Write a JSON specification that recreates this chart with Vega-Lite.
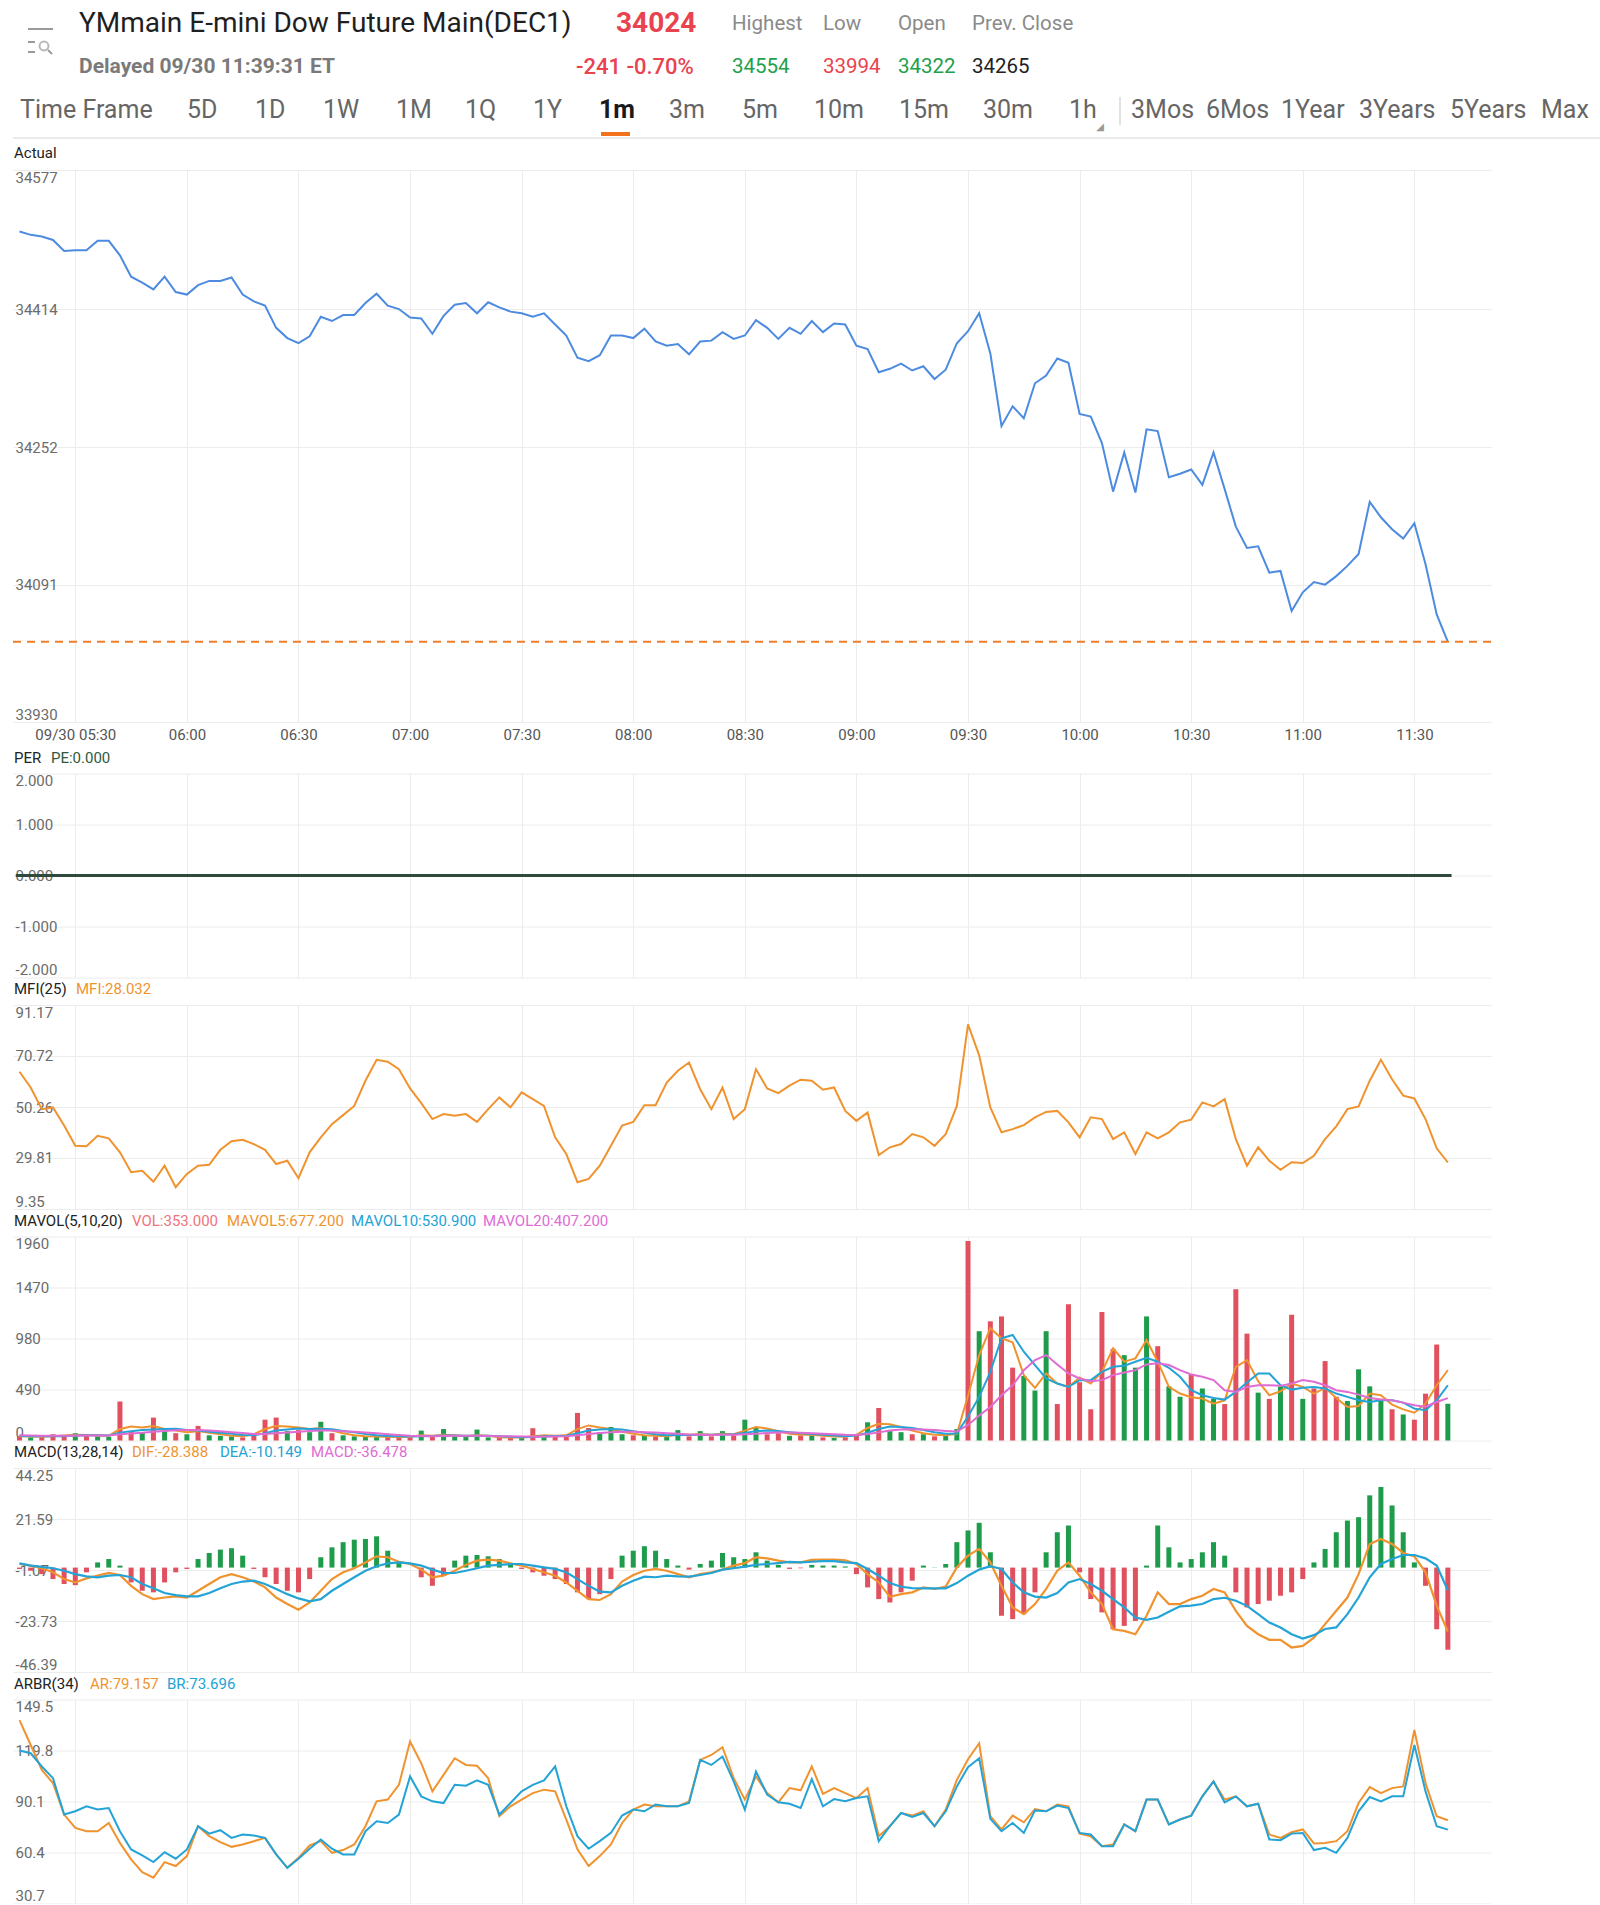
{
"$schema": "https://vega.github.io/schema/vega-lite/v6.json",
"padding": {"left": 12, "top": 0, "right": 0, "bottom": 0},
"spacing": 8.5,
"config": {
  "font": "Roboto",
  "view": {"stroke": null},
  "scale": {"continuousPadding": 0},
  "axis": {"ticks": false, "tickSize": 0, "domain": false, "gridColor": "#ececec", "gridWidth": 1, "labelFontSize": 15, "labelColor": "#6b6b6b", "labelFont": "Roboto"},
  "axisX": {"grid": true, "labelPadding": 5, "labelColor": "#555555", "labelOverlap": false, "labelFlush": false},
  "axisY": {"grid": true, "labelAlign": "left", "labelPadding": -2, "labelFlush": true, "labelOverlap": false},
  "text": {"font": "Roboto"}
},
"datasets": {
"d": [
{"time":"2021-09-30T05:15","price":34505,"mfi":64.4,"vol":40,"dir":"d","ma5":40,"ma10":45,"ma20":50,"dif":1.6,"dea":1.9,"macd":-0.6,"ar":137.5,"br":119.8},
{"time":"2021-09-30T05:18","price":34501,"mfi":58.1,"vol":30,"dir":"u","ma5":38,"ma10":42,"ma20":48,"dif":0.9,"dea":0.9,"macd":-1.4,"ar":123.0,"br":118.2},
{"time":"2021-09-30T05:21","price":34499,"mfi":49.4,"vol":35,"dir":"d","ma5":36,"ma10":40,"ma20":46,"dif":-0.3,"dea":0.3,"macd":-2.9,"ar":108.5,"br":110.5},
{"time":"2021-09-30T05:24","price":34495,"mfi":50.1,"vol":60,"dir":"d","ma5":42,"ma10":40,"ma20":45,"dif":-2.1,"dea":-0.3,"macd":-5.1,"ar":100.8,"br":103.7},
{"time":"2021-09-30T05:27","price":34482,"mfi":42.8,"vol":45,"dir":"d","ma5":48,"ma10":42,"ma20":45,"dif":-5.1,"dea":-1.4,"macd":-7.3,"ar":82.5,"br":82.5},
{"time":"2021-09-30T05:30","price":34483,"mfi":34.7,"vol":70,"dir":"u","ma5":55,"ma10":48,"ma20":46,"dif":-6.6,"dea":-2.9,"macd":-7.8,"ar":74.7,"br":84.4},
{"time":"2021-09-30T05:33","price":34483,"mfi":34.5,"vol":50,"dir":"d","ma5":52,"ma10":50,"ma20":47,"dif":-4.8,"dea":-3.9,"macd":-2.1,"ar":72.8,"br":87.3},
{"time":"2021-09-30T05:36","price":34494,"mfi":38.7,"vol":40,"dir":"u","ma5":48,"ma10":50,"ma20":48,"dif":-3.6,"dea":-4.3,"macd":2.3,"ar":72.8,"br":85.4},
{"time":"2021-09-30T05:39","price":34494,"mfi":37.7,"vol":35,"dir":"u","ma5":45,"ma10":48,"ma20":48,"dif":-2.4,"dea":-3.6,"macd":3.8,"ar":77.6,"br":86.3},
{"time":"2021-09-30T05:42","price":34477,"mfi":32.1,"vol":375,"dir":"d","ma5":110,"ma10":75,"ma20":60,"dif":-3.3,"dea":-3.3,"macd":0.9,"ar":66.0,"br":72.8},
{"time":"2021-09-30T05:45","price":34452,"mfi":24.1,"vol":90,"dir":"d","ma5":135,"ma10":90,"ma20":68,"dif":-8.1,"dea":-4.3,"macd":-6.6,"ar":56.4,"br":62.2},
{"time":"2021-09-30T05:48","price":34445,"mfi":24.7,"vol":80,"dir":"u","ma5":125,"ma10":100,"ma20":75,"dif":-11.8,"dea":-7.3,"macd":-10.3,"ar":49.0,"br":58.7},
{"time":"2021-09-30T05:51","price":34437,"mfi":20.3,"vol":220,"dir":"d","ma5":140,"ma10":105,"ma20":85,"dif":-14.0,"dea":-9.2,"macd":-11.0,"ar":45.7,"br":54.8},
{"time":"2021-09-30T05:54","price":34452,"mfi":26.7,"vol":90,"dir":"u","ma5":110,"ma10":110,"ma20":92,"dif":-13.3,"dea":-11.3,"macd":-6.6,"ar":54.8,"br":60.6},
{"time":"2021-09-30T05:57","price":34434,"mfi":18.1,"vol":70,"dir":"d","ma5":95,"ma10":112,"ma20":98,"dif":-12.8,"dea":-12.2,"macd":-2.1,"ar":52.5,"br":56.8},
{"time":"2021-09-30T06:00","price":34431,"mfi":23.4,"vol":60,"dir":"u","ma5":80,"ma10":100,"ma20":100,"dif":-13.3,"dea":-12.8,"macd":-0.6,"ar":58.3,"br":62.2},
{"time":"2021-09-30T06:03","price":34442,"mfi":26.7,"vol":140,"dir":"d","ma5":90,"ma10":95,"ma20":100,"dif":-10.3,"dea":-12.8,"macd":3.8,"ar":75.7,"br":75.7},
{"time":"2021-09-30T06:06","price":34447,"mfi":27.1,"vol":50,"dir":"u","ma5":75,"ma10":85,"ma20":95,"dif":-7.3,"dea":-11.3,"macd":6.5,"ar":69.9,"br":71.4},
{"time":"2021-09-30T06:09","price":34447,"mfi":33.1,"vol":45,"dir":"u","ma5":60,"ma10":75,"ma20":88,"dif":-4.3,"dea":-9.2,"macd":8.0,"ar":66.4,"br":73.4},
{"time":"2021-09-30T06:12","price":34451,"mfi":36.5,"vol":40,"dir":"u","ma5":45,"ma10":65,"ma20":80,"dif":-2.9,"dea":-7.3,"macd":8.6,"ar":63.7,"br":68.9},
{"time":"2021-09-30T06:15","price":34431,"mfi":37.1,"vol":30,"dir":"d","ma5":40,"ma10":52,"ma20":72,"dif":-4.3,"dea":-6.2,"macd":5.3,"ar":65.1,"br":70.9},
{"time":"2021-09-30T06:18","price":34423,"mfi":35.4,"vol":60,"dir":"d","ma5":60,"ma10":50,"ma20":62,"dif":-6.2,"dea":-5.8,"macd":-0.6,"ar":67.0,"br":70.3},
{"time":"2021-09-30T06:21","price":34418,"mfi":33.1,"vol":200,"dir":"d","ma5":110,"ma10":70,"ma20":62,"dif":-8.8,"dea":-7.3,"macd":-4.3,"ar":68.9,"br":68.9},
{"time":"2021-09-30T06:24","price":34392,"mfi":27.4,"vol":220,"dir":"d","ma5":140,"ma10":95,"ma20":70,"dif":-13.3,"dea":-9.5,"macd":-7.3,"ar":59.3,"br":59.3},
{"time":"2021-09-30T06:27","price":34380,"mfi":28.7,"vol":90,"dir":"u","ma5":135,"ma10":105,"ma20":78,"dif":-16.2,"dea":-11.8,"macd":-10.3,"ar":51.5,"br":51.5},
{"time":"2021-09-30T06:30","price":34374,"mfi":21.7,"vol":100,"dir":"d","ma5":125,"ma10":115,"ma20":85,"dif":-18.7,"dea":-13.7,"macd":-11.0,"ar":57.3,"br":56.8},
{"time":"2021-09-30T06:33","price":34382,"mfi":32.1,"vol":80,"dir":"u","ma5":110,"ma10":110,"ma20":92,"dif":-15.5,"dea":-15.0,"macd":-5.1,"ar":64.5,"br":62.6},
{"time":"2021-09-30T06:36","price":34405,"mfi":38.1,"vol":180,"dir":"u","ma5":120,"ma10":112,"ma20":96,"dif":-10.3,"dea":-14.0,"macd":4.6,"ar":67.0,"br":68.0},
{"time":"2021-09-30T06:39","price":34400,"mfi":43.4,"vol":70,"dir":"d","ma5":95,"ma10":108,"ma20":95,"dif":-5.1,"dea":-10.3,"macd":9.0,"ar":60.2,"br":62.6},
{"time":"2021-09-30T06:42","price":34407,"mfi":47.0,"vol":50,"dir":"u","ma5":70,"ma10":92,"ma20":90,"dif":-2.1,"dea":-7.3,"macd":11.3,"ar":61.8,"br":59.3},
{"time":"2021-09-30T06:45","price":34407,"mfi":50.7,"vol":40,"dir":"u","ma5":50,"ma10":78,"ma20":84,"dif":-0.3,"dea":-4.3,"macd":12.4,"ar":65.1,"br":59.3},
{"time":"2021-09-30T06:48","price":34421,"mfi":60.8,"vol":40,"dir":"u","ma5":42,"ma10":62,"ma20":78,"dif":2.3,"dea":-1.4,"macd":12.7,"ar":75.7,"br":72.8},
{"time":"2021-09-30T06:51","price":34432,"mfi":69.2,"vol":35,"dir":"u","ma5":38,"ma10":50,"ma20":70,"dif":5.0,"dea":0.6,"macd":13.9,"ar":90.2,"br":78.6},
{"time":"2021-09-30T06:54","price":34418,"mfi":68.4,"vol":40,"dir":"d","ma5":36,"ma10":44,"ma20":60,"dif":4.6,"dea":1.9,"macd":7.5,"ar":91.2,"br":77.6},
{"time":"2021-09-30T06:57","price":34414,"mfi":65.4,"vol":30,"dir":"d","ma5":34,"ma10":40,"ma20":52,"dif":2.6,"dea":2.3,"macd":2.3,"ar":99.8,"br":82.5},
{"time":"2021-09-30T07:00","price":34404,"mfi":57.7,"vol":30,"dir":"d","ma5":35,"ma10":38,"ma20":46,"dif":1.6,"dea":1.9,"macd":0.0,"ar":125.0,"br":104.7},
{"time":"2021-09-30T07:03","price":34403,"mfi":51.8,"vol":95,"dir":"u","ma5":50,"ma10":42,"ma20":44,"dif":-0.9,"dea":0.9,"macd":-4.3,"ar":112.4,"br":93.1},
{"time":"2021-09-30T07:06","price":34385,"mfi":45.4,"vol":40,"dir":"d","ma5":45,"ma10":44,"ma20":42,"dif":-4.3,"dea":-0.9,"macd":-8.1,"ar":96.0,"br":90.2},
{"time":"2021-09-30T07:09","price":34406,"mfi":47.4,"vol":110,"dir":"u","ma5":55,"ma10":48,"ma20":44,"dif":-3.6,"dea":-2.4,"macd":-3.6,"ar":105.6,"br":89.2},
{"time":"2021-09-30T07:12","price":34419,"mfi":46.8,"vol":40,"dir":"u","ma5":50,"ma10":48,"ma20":45,"dif":-1.4,"dea":-2.4,"macd":3.1,"ar":115.3,"br":99.8},
{"time":"2021-09-30T07:15","price":34421,"mfi":47.4,"vol":35,"dir":"u","ma5":40,"ma10":46,"ma20":45,"dif":1.2,"dea":-1.4,"macd":5.3,"ar":111.4,"br":99.3},
{"time":"2021-09-30T07:18","price":34409,"mfi":44.3,"vol":105,"dir":"u","ma5":50,"ma10":45,"ma20":45,"dif":3.1,"dea":-0.3,"macd":5.6,"ar":110.9,"br":102.4},
{"time":"2021-09-30T07:21","price":34422,"mfi":49.4,"vol":30,"dir":"u","ma5":45,"ma10":46,"ma20":44,"dif":3.5,"dea":0.9,"macd":5.0,"ar":103.7,"br":99.8},
{"time":"2021-09-30T07:24","price":34416,"mfi":54.1,"vol":30,"dir":"d","ma5":32,"ma10":42,"ma20":42,"dif":3.1,"dea":1.2,"macd":3.8,"ar":81.5,"br":82.5},
{"time":"2021-09-30T07:27","price":34411,"mfi":50.1,"vol":25,"dir":"d","ma5":28,"ma10":36,"ma20":40,"dif":1.9,"dea":1.6,"macd":1.6,"ar":87.3,"br":89.2},
{"time":"2021-09-30T07:30","price":34409,"mfi":56.1,"vol":30,"dir":"u","ma5":28,"ma10":32,"ma20":38,"dif":0.9,"dea":1.6,"macd":-0.6,"ar":91.2,"br":96.0},
{"time":"2021-09-30T07:33","price":34405,"mfi":53.4,"vol":118,"dir":"d","ma5":40,"ma10":34,"ma20":36,"dif":-0.6,"dea":0.9,"macd":-2.1,"ar":95.0,"br":99.8},
{"time":"2021-09-30T07:36","price":34409,"mfi":50.7,"vol":40,"dir":"u","ma5":50,"ma10":40,"ma20":36,"dif":-2.1,"dea":0.1,"macd":-3.6,"ar":97.0,"br":102.4},
{"time":"2021-09-30T07:39","price":34396,"mfi":38.1,"vol":40,"dir":"d","ma5":45,"ma10":44,"ma20":38,"dif":-3.6,"dea":-0.6,"macd":-5.1,"ar":96.0,"br":110.5},
{"time":"2021-09-30T07:42","price":34383,"mfi":31.4,"vol":50,"dir":"d","ma5":50,"ma10":46,"ma20":40,"dif":-6.6,"dea":-2.1,"macd":-7.3,"ar":79.6,"br":87.3},
{"time":"2021-09-30T07:45","price":34357,"mfi":20.1,"vol":265,"dir":"d","ma5":110,"ma10":70,"ma20":50,"dif":-10.3,"dea":-5.1,"macd":-11.0,"ar":62.2,"br":69.9},
{"time":"2021-09-30T07:48","price":34353,"mfi":21.4,"vol":120,"dir":"d","ma5":145,"ma10":95,"ma20":62,"dif":-14.0,"dea":-8.1,"macd":-14.0,"ar":52.5,"br":62.6},
{"time":"2021-09-30T07:51","price":34360,"mfi":26.7,"vol":80,"dir":"u","ma5":125,"ma10":105,"ma20":72,"dif":-14.4,"dea":-10.7,"macd":-11.8,"ar":58.3,"br":67.0},
{"time":"2021-09-30T07:54","price":34383,"mfi":34.7,"vol":130,"dir":"u","ma5":110,"ma10":110,"ma20":80,"dif":-11.8,"dea":-11.0,"macd":-5.1,"ar":65.1,"br":71.8},
{"time":"2021-09-30T07:57","price":34383,"mfi":42.8,"vol":60,"dir":"u","ma5":85,"ma10":105,"ma20":84,"dif":-6.2,"dea":-8.1,"macd":5.3,"ar":77.6,"br":81.9},
{"time":"2021-09-30T08:00","price":34380,"mfi":44.3,"vol":50,"dir":"d","ma5":65,"ma10":90,"ma20":84,"dif":-3.3,"dea":-5.8,"macd":7.5,"ar":85.4,"br":85.4},
{"time":"2021-09-30T08:03","price":34391,"mfi":51.0,"vol":45,"dir":"u","ma5":50,"ma10":75,"ma20":80,"dif":-1.4,"dea":-4.0,"macd":9.5,"ar":88.3,"br":84.4},
{"time":"2021-09-30T08:06","price":34376,"mfi":51.0,"vol":40,"dir":"d","ma5":45,"ma10":60,"ma20":76,"dif":-0.6,"dea":-4.3,"macd":7.5,"ar":87.3,"br":88.3},
{"time":"2021-09-30T08:09","price":34371,"mfi":60.1,"vol":40,"dir":"u","ma5":42,"ma10":50,"ma20":70,"dif":-1.4,"dea":-3.6,"macd":3.8,"ar":87.3,"br":87.3},
{"time":"2021-09-30T08:12","price":34373,"mfi":64.8,"vol":100,"dir":"u","ma5":58,"ma10":52,"ma20":64,"dif":-2.9,"dea":-3.9,"macd":0.9,"ar":87.3,"br":87.3},
{"time":"2021-09-30T08:15","price":34361,"mfi":68.1,"vol":40,"dir":"d","ma5":55,"ma10":52,"ma20":58,"dif":-4.3,"dea":-4.0,"macd":-0.9,"ar":90.2,"br":89.2},
{"time":"2021-09-30T08:18","price":34376,"mfi":57.4,"vol":90,"dir":"u","ma5":62,"ma10":55,"ma20":55,"dif":-2.9,"dea":-3.3,"macd":1.6,"ar":114.3,"br":114.3},
{"time":"2021-09-30T08:21","price":34377,"mfi":49.4,"vol":40,"dir":"d","ma5":55,"ma10":55,"ma20":54,"dif":-2.1,"dea":-2.4,"macd":3.1,"ar":117.2,"br":111.4},
{"time":"2021-09-30T08:24","price":34387,"mfi":58.1,"vol":90,"dir":"u","ma5":65,"ma10":58,"ma20":55,"dif":-0.9,"dea":-0.9,"macd":6.5,"ar":121.7,"br":116.3},
{"time":"2021-09-30T08:27","price":34379,"mfi":45.4,"vol":50,"dir":"d","ma5":60,"ma10":60,"ma20":56,"dif":0.9,"dea":-0.3,"macd":4.6,"ar":103.7,"br":101.8},
{"time":"2021-09-30T08:30","price":34383,"mfi":49.4,"vol":200,"dir":"u","ma5":95,"ma10":72,"ma20":60,"dif":2.0,"dea":0.4,"macd":3.8,"ar":91.2,"br":85.4},
{"time":"2021-09-30T08:33","price":34401,"mfi":65.4,"vol":120,"dir":"u","ma5":130,"ma10":90,"ma20":66,"dif":4.6,"dea":1.2,"macd":6.8,"ar":104.7,"br":107.6},
{"time":"2021-09-30T08:36","price":34392,"mfi":57.7,"vol":60,"dir":"d","ma5":115,"ma10":95,"ma20":72,"dif":4.1,"dea":1.6,"macd":3.1,"ar":95.0,"br":94.1},
{"time":"2021-09-30T08:39","price":34379,"mfi":55.8,"vol":70,"dir":"d","ma5":90,"ma10":92,"ma20":76,"dif":3.1,"dea":2.0,"macd":1.2,"ar":89.6,"br":89.6},
{"time":"2021-09-30T08:42","price":34392,"mfi":58.8,"vol":45,"dir":"u","ma5":65,"ma10":80,"ma20":76,"dif":2.3,"dea":2.5,"macd":-0.6,"ar":97.9,"br":88.8},
{"time":"2021-09-30T08:45","price":34385,"mfi":61.2,"vol":50,"dir":"d","ma5":55,"ma10":70,"ma20":74,"dif":2.3,"dea":2.3,"macd":-0.3,"ar":96.6,"br":86.3},
{"time":"2021-09-30T08:48","price":34400,"mfi":60.8,"vol":50,"dir":"u","ma5":55,"ma10":62,"ma20":70,"dif":3.4,"dea":2.6,"macd":1.2,"ar":110.5,"br":103.1},
{"time":"2021-09-30T08:51","price":34387,"mfi":57.2,"vol":30,"dir":"d","ma5":45,"ma10":55,"ma20":66,"dif":3.5,"dea":2.9,"macd":0.9,"ar":94.6,"br":87.3},
{"time":"2021-09-30T08:54","price":34397,"mfi":58.1,"vol":25,"dir":"u","ma5":38,"ma10":48,"ma20":60,"dif":3.5,"dea":2.9,"macd":0.9,"ar":97.9,"br":91.5},
{"time":"2021-09-30T08:57","price":34396,"mfi":48.7,"vol":30,"dir":"d","ma5":35,"ma10":42,"ma20":55,"dif":3.2,"dea":2.3,"macd":0.5,"ar":95.0,"br":90.2},
{"time":"2021-09-30T09:00","price":34371,"mfi":44.7,"vol":60,"dir":"d","ma5":55,"ma10":48,"ma20":54,"dif":1.6,"dea":2.0,"macd":-2.9,"ar":92.1,"br":92.1},
{"time":"2021-09-30T09:03","price":34367,"mfi":48.1,"vol":175,"dir":"u","ma5":120,"ma10":75,"ma20":62,"dif":-2.9,"dea":-0.6,"macd":-8.8,"ar":97.9,"br":93.1},
{"time":"2021-09-30T09:06","price":34340,"mfi":31.0,"vol":312,"dir":"d","ma5":160,"ma10":110,"ma20":78,"dif":-6.6,"dea":-3.6,"macd":-14.0,"ar":69.9,"br":67.0},
{"time":"2021-09-30T09:09","price":34344,"mfi":34.1,"vol":90,"dir":"u","ma5":155,"ma10":135,"ma20":95,"dif":-13.0,"dea":-6.9,"macd":-15.5,"ar":75.7,"br":75.7},
{"time":"2021-09-30T09:12","price":34350,"mfi":35.4,"vol":80,"dir":"u","ma5":130,"ma10":130,"ma20":105,"dif":-11.8,"dea":-8.5,"macd":-11.0,"ar":83.4,"br":83.4},
{"time":"2021-09-30T09:15","price":34342,"mfi":39.4,"vol":60,"dir":"d","ma5":95,"ma10":120,"ma20":108,"dif":-11.0,"dea":-9.1,"macd":-5.8,"ar":81.9,"br":81.1},
{"time":"2021-09-30T09:18","price":34347,"mfi":38.1,"vol":60,"dir":"u","ma5":70,"ma10":100,"ma20":105,"dif":-8.8,"dea":-9.2,"macd":0.9,"ar":84.4,"br":83.4},
{"time":"2021-09-30T09:21","price":34332,"mfi":34.7,"vol":40,"dir":"d","ma5":55,"ma10":80,"ma20":100,"dif":-9.5,"dea":-9.2,"macd":0.1,"ar":75.7,"br":75.7},
{"time":"2021-09-30T09:24","price":34343,"mfi":39.4,"vol":45,"dir":"u","ma5":50,"ma10":65,"ma20":92,"dif":-8.4,"dea":-9.2,"macd":1.6,"ar":85.4,"br":84.4},
{"time":"2021-09-30T09:27","price":34374,"mfi":50.7,"vol":110,"dir":"u","ma5":65,"ma10":68,"ma20":86,"dif":0.1,"dea":-6.9,"macd":11.3,"ar":102.7,"br":98.9},
{"time":"2021-09-30T09:30","price":34388,"mfi":83.4,"vol":1917,"dir":"d","ma5":430,"ma10":230,"ma20":150,"dif":5.3,"dea":-3.6,"macd":16.5,"ar":114.7,"br":110.1},
{"time":"2021-09-30T09:33","price":34409,"mfi":71.0,"vol":1050,"dir":"u","ma5":821,"ma10":419,"ma20":241,"dif":8.3,"dea":-0.9,"macd":19.9,"ar":124.0,"br":115.3},
{"time":"2021-09-30T09:36","price":34362,"mfi":50.1,"vol":1145,"dir":"d","ma5":1079,"ma10":660,"ma20":322,"dif":2.3,"dea":0.6,"macd":6.8,"ar":81.5,"br":80.0},
{"time":"2021-09-30T09:39","price":34277,"mfi":40.1,"vol":1192,"dir":"d","ma5":982,"ma10":982,"ma20":435,"dif":-8.1,"dea":-0.6,"macd":-21.4,"ar":73.8,"br":72.8},
{"time":"2021-09-30T09:42","price":34300,"mfi":41.4,"vol":700,"dir":"d","ma5":943,"ma10":1014,"ma20":531,"dif":-17.7,"dea":-6.6,"macd":-22.9,"ar":81.9,"br":77.6},
{"time":"2021-09-30T09:45","price":34286,"mfi":43.0,"vol":620,"dir":"u","ma5":628,"ma10":853,"ma20":676,"dif":-20.7,"dea":-11.0,"macd":-20.7,"ar":78.0,"br":71.8},
{"time":"2021-09-30T09:48","price":34327,"mfi":46.1,"vol":480,"dir":"u","ma5":506,"ma10":725,"ma20":773,"dif":-16.2,"dea":-12.9,"macd":-11.0,"ar":85.7,"br":84.9},
{"time":"2021-09-30T09:51","price":34336,"mfi":48.3,"vol":1050,"dir":"u","ma5":644,"ma10":596,"ma20":821,"dif":-9.5,"dea":-13.3,"macd":6.8,"ar":84.4,"br":84.4},
{"time":"2021-09-30T09:54","price":34356,"mfi":48.7,"vol":350,"dir":"d","ma5":547,"ma10":547,"ma20":731,"dif":-1.4,"dea":-11.3,"macd":15.7,"ar":88.3,"br":87.7},
{"time":"2021-09-30T09:57","price":34351,"mfi":44.1,"vol":1310,"dir":"d","ma5":515,"ma10":515,"ma20":644,"dif":2.3,"dea":-6.6,"macd":18.7,"ar":87.3,"br":86.3},
{"time":"2021-09-30T10:00","price":34291,"mfi":38.1,"vol":560,"dir":"d","ma5":605,"ma10":580,"ma20":596,"dif":-3.6,"dea":-5.1,"macd":-2.1,"ar":71.4,"br":71.8},
{"time":"2021-09-30T10:03","price":34288,"mfi":46.1,"vol":300,"dir":"d","ma5":547,"ma10":580,"ma20":570,"dif":-11.0,"dea":-7.3,"macd":-14.0,"ar":69.9,"br":70.9},
{"time":"2021-09-30T10:06","price":34257,"mfi":45.4,"vol":1234,"dir":"d","ma5":660,"ma10":660,"ma20":580,"dif":-16.2,"dea":-10.3,"macd":-19.9,"ar":64.1,"br":64.1},
{"time":"2021-09-30T10:09","price":34200,"mfi":37.4,"vol":880,"dir":"d","ma5":886,"ma10":708,"ma20":628,"dif":-27.4,"dea":-14.0,"macd":-27.4,"ar":65.1,"br":64.1},
{"time":"2021-09-30T10:12","price":34246,"mfi":40.1,"vol":820,"dir":"u","ma5":757,"ma10":718,"ma20":654,"dif":-28.1,"dea":-17.7,"macd":-25.9,"ar":76.7,"br":76.7},
{"time":"2021-09-30T10:15","price":34199,"mfi":31.4,"vol":700,"dir":"u","ma5":789,"ma10":757,"ma20":676,"dif":-29.6,"dea":-22.2,"macd":-23.7,"ar":72.8,"br":72.8},
{"time":"2021-09-30T10:18","price":34273,"mfi":40.1,"vol":1192,"dir":"u","ma5":966,"ma10":795,"ma20":731,"dif":-21.4,"dea":-23.2,"macd":0.9,"ar":91.2,"br":91.2},
{"time":"2021-09-30T10:21","price":34271,"mfi":37.7,"vol":906,"dir":"d","ma5":757,"ma10":757,"ma20":741,"dif":-11.0,"dea":-22.2,"macd":18.7,"ar":91.2,"br":91.2},
{"time":"2021-09-30T10:24","price":34217,"mfi":40.1,"vol":520,"dir":"u","ma5":515,"ma10":699,"ma20":725,"dif":-16.2,"dea":-19.6,"macd":9.0,"ar":76.7,"br":76.7},
{"time":"2021-09-30T10:27","price":34221,"mfi":44.1,"vol":420,"dir":"u","ma5":451,"ma10":612,"ma20":676,"dif":-16.2,"dea":-17.2,"macd":2.3,"ar":79.6,"br":79.6},
{"time":"2021-09-30T10:30","price":34226,"mfi":45.2,"vol":636,"dir":"d","ma5":415,"ma10":483,"ma20":634,"dif":-14.0,"dea":-16.9,"macd":3.8,"ar":81.9,"br":81.9},
{"time":"2021-09-30T10:33","price":34208,"mfi":52.1,"vol":500,"dir":"u","ma5":403,"ma10":435,"ma20":612,"dif":-12.5,"dea":-16.2,"macd":6.8,"ar":93.1,"br":93.1},
{"time":"2021-09-30T10:36","price":34246,"mfi":50.5,"vol":400,"dir":"u","ma5":354,"ma10":409,"ma20":580,"dif":-9.5,"dea":-14.0,"macd":11.3,"ar":101.8,"br":101.8},
{"time":"2021-09-30T10:39","price":34203,"mfi":53.4,"vol":350,"dir":"d","ma5":386,"ma10":393,"ma20":483,"dif":-11.0,"dea":-13.4,"macd":5.3,"ar":91.2,"br":89.6},
{"time":"2021-09-30T10:42","price":34159,"mfi":37.4,"vol":1453,"dir":"d","ma5":708,"ma10":467,"ma20":467,"dif":-19.2,"dea":-14.7,"macd":-11.0,"ar":93.1,"br":93.1},
{"time":"2021-09-30T10:45","price":34134,"mfi":26.7,"vol":1027,"dir":"d","ma5":773,"ma10":557,"ma20":515,"dif":-25.9,"dea":-17.0,"macd":-17.7,"ar":87.3,"br":87.3},
{"time":"2021-09-30T10:48","price":34136,"mfi":34.1,"vol":460,"dir":"u","ma5":570,"ma10":644,"ma20":531,"dif":-29.6,"dea":-20.7,"macd":-16.2,"ar":88.8,"br":88.8},
{"time":"2021-09-30T10:51","price":34105,"mfi":28.7,"vol":400,"dir":"d","ma5":435,"ma10":644,"ma20":531,"dif":-32.1,"dea":-24.4,"macd":-14.7,"ar":70.9,"br":68.0},
{"time":"2021-09-30T10:54","price":34107,"mfi":25.1,"vol":520,"dir":"u","ma5":473,"ma10":531,"ma20":525,"dif":-32.1,"dea":-26.6,"macd":-12.5,"ar":68.9,"br":67.6},
{"time":"2021-09-30T10:57","price":34060,"mfi":28.1,"vol":1208,"dir":"d","ma5":547,"ma10":489,"ma20":547,"dif":-35.5,"dea":-29.6,"macd":-11.0,"ar":72.2,"br":71.4},
{"time":"2021-09-30T11:00","price":34082,"mfi":27.8,"vol":400,"dir":"u","ma5":515,"ma10":506,"ma20":580,"dif":-34.8,"dea":-31.5,"macd":-5.1,"ar":73.8,"br":71.8},
{"time":"2021-09-30T11:03","price":34094,"mfi":30.7,"vol":500,"dir":"d","ma5":451,"ma10":515,"ma20":564,"dif":-31.1,"dea":-30.0,"macd":2.3,"ar":65.7,"br":61.8},
{"time":"2021-09-30T11:06","price":34091,"mfi":37.4,"vol":763,"dir":"d","ma5":506,"ma10":499,"ma20":531,"dif":-25.1,"dea":-27.3,"macd":8.3,"ar":66.0,"br":63.1},
{"time":"2021-09-30T11:09","price":34101,"mfi":42.5,"vol":420,"dir":"d","ma5":409,"ma10":451,"ma20":483,"dif":-19.2,"dea":-26.6,"macd":15.7,"ar":67.0,"br":60.2},
{"time":"2021-09-30T11:12","price":34113,"mfi":49.4,"vol":380,"dir":"u","ma5":322,"ma10":419,"ma20":467,"dif":-13.3,"dea":-20.7,"macd":20.9,"ar":72.8,"br":68.9},
{"time":"2021-09-30T11:15","price":34127,"mfi":50.5,"vol":684,"dir":"u","ma5":332,"ma10":386,"ma20":441,"dif":-2.9,"dea":-13.3,"macd":22.4,"ar":89.2,"br":84.4},
{"time":"2021-09-30T11:18","price":34188,"mfi":60.8,"vol":520,"dir":"u","ma5":451,"ma10":370,"ma20":409,"dif":10.5,"dea":-4.3,"macd":32.1,"ar":98.5,"br":92.7},
{"time":"2021-09-30T11:21","price":34170,"mfi":69.2,"vol":400,"dir":"u","ma5":435,"ma10":386,"ma20":393,"dif":12.7,"dea":1.6,"macd":35.8,"ar":95.0,"br":90.2},
{"time":"2021-09-30T11:24","price":34156,"mfi":61.4,"vol":300,"dir":"d","ma5":345,"ma10":386,"ma20":386,"dif":10.5,"dea":3.8,"macd":27.6,"ar":97.9,"br":93.1},
{"time":"2021-09-30T11:27","price":34145,"mfi":54.8,"vol":250,"dir":"u","ma5":299,"ma10":364,"ma20":364,"dif":6.5,"dea":5.6,"macd":15.7,"ar":98.9,"br":93.1},
{"time":"2021-09-30T11:30","price":34163,"mfi":53.7,"vol":200,"dir":"d","ma5":267,"ma10":306,"ma20":338,"dif":5.0,"dea":5.6,"macd":2.3,"ar":131.7,"br":123.0},
{"time":"2021-09-30T11:33","price":34115,"mfi":45.4,"vol":450,"dir":"d","ma5":354,"ma10":290,"ma20":325,"dif":-2.1,"dea":4.1,"macd":-8.1,"ar":100.8,"br":96.0},
{"time":"2021-09-30T11:36","price":34056,"mfi":33.7,"vol":922,"dir":"d","ma5":531,"ma10":386,"ma20":370,"dif":-16.9,"dea":0.9,"macd":-27.4,"ar":81.5,"br":75.7},
{"time":"2021-09-30T11:39","price":34024,"mfi":28.0,"vol":353,"dir":"u","ma5":677.2,"ma10":530.9,"ma20":407.2,"dif":-28.4,"dea":-10.1,"macd":-36.5,"ar":79.2,"br":73.7}
]
},
"vconcat": [
{
"bounds": "flush",
"spacing": 27,
"vconcat": [
{
"width": 1588,
"height": 143,
"data": {"values": [{}]},
"layer": [
{"mark": {"type": "rule", "color": "#9a9a9a", "strokeWidth": 2}, "encoding": {"x": {"datum": 27, "type": "quantitative", "scale": {"domain": [12, 1600], "nice": false, "zero": false}, "axis": null}, "x2": {"datum": 52}, "y": {"datum": 29, "type": "quantitative", "scale": {"domain": [0, 143], "nice": false, "zero": false, "reverse": true}, "axis": null}}},
{"mark": {"type": "rule", "color": "#9a9a9a", "strokeWidth": 2}, "encoding": {"x": {"datum": 27, "axis": null}, "x2": {"datum": 34}, "y": {"datum": 42, "axis": null}}},
{"mark": {"type": "rule", "color": "#9a9a9a", "strokeWidth": 2}, "encoding": {"x": {"datum": 27, "axis": null}, "x2": {"datum": 34}, "y": {"datum": 52, "axis": null}}},
{"mark": {"type": "point", "filled": false, "color": "#9a9a9a", "strokeWidth": 2, "size": 80}, "encoding": {"x": {"datum": 43, "axis": null}, "y": {"datum": 46, "axis": null}}},
{"mark": {"type": "rule", "color": "#9a9a9a", "strokeWidth": 2}, "encoding": {"x": {"datum": 47, "axis": null}, "x2": {"datum": 51}, "y": {"datum": 50, "axis": null}, "y2": {"datum": 54}}},
{"mark": {"type": "text", "align": "left", "baseline": "middle", "fontSize": 28, "color": "#1f1f1f"}, "encoding": {"x": {"datum": 78, "axis": null}, "y": {"datum": 24, "axis": null}, "text": {"value": "YMmain E-mini Dow Future Main(DEC1)"}}},
{"mark": {"type": "text", "align": "left", "baseline": "middle", "fontSize": 28, "fontWeight": "bold", "color": "#e8434f"}, "encoding": {"x": {"datum": 615, "axis": null}, "y": {"datum": 24, "axis": null}, "text": {"value": "34024"}}},
{"mark": {"type": "text", "align": "left", "baseline": "middle", "fontSize": 20.5, "color": "#8a8a8a"}, "encoding": {"x": {"datum": 731, "axis": null}, "y": {"datum": 24, "axis": null}, "text": {"value": "Highest"}}},
{"mark": {"type": "text", "align": "left", "baseline": "middle", "fontSize": 20.5, "color": "#8a8a8a"}, "encoding": {"x": {"datum": 822, "axis": null}, "y": {"datum": 24, "axis": null}, "text": {"value": "Low"}}},
{"mark": {"type": "text", "align": "left", "baseline": "middle", "fontSize": 20.5, "color": "#8a8a8a"}, "encoding": {"x": {"datum": 897, "axis": null}, "y": {"datum": 24, "axis": null}, "text": {"value": "Open"}}},
{"mark": {"type": "text", "align": "left", "baseline": "middle", "fontSize": 20.5, "color": "#8a8a8a"}, "encoding": {"x": {"datum": 971, "axis": null}, "y": {"datum": 24, "axis": null}, "text": {"value": "Prev. Close"}}},
{"mark": {"type": "text", "align": "left", "baseline": "middle", "fontSize": 21, "fontWeight": "bold", "color": "#7a7a7a"}, "encoding": {"x": {"datum": 78, "axis": null}, "y": {"datum": 67, "axis": null}, "text": {"value": "Delayed 09/30 11:39:31 ET"}}},
{"mark": {"type": "text", "align": "left", "baseline": "middle", "fontSize": 22, "fontWeight": 500, "color": "#e8434f"}, "encoding": {"x": {"datum": 575, "axis": null}, "y": {"datum": 67, "axis": null}, "text": {"value": "-241 -0.70%"}}},
{"mark": {"type": "text", "align": "left", "baseline": "middle", "fontSize": 20.5, "color": "#22a04b"}, "encoding": {"x": {"datum": 731, "axis": null}, "y": {"datum": 67, "axis": null}, "text": {"value": "34554"}}},
{"mark": {"type": "text", "align": "left", "baseline": "middle", "fontSize": 20.5, "color": "#e8434f"}, "encoding": {"x": {"datum": 822, "axis": null}, "y": {"datum": 67, "axis": null}, "text": {"value": "33994"}}},
{"mark": {"type": "text", "align": "left", "baseline": "middle", "fontSize": 20.5, "color": "#22a04b"}, "encoding": {"x": {"datum": 897, "axis": null}, "y": {"datum": 67, "axis": null}, "text": {"value": "34322"}}},
{"mark": {"type": "text", "align": "left", "baseline": "middle", "fontSize": 20.5, "color": "#222222"}, "encoding": {"x": {"datum": 971, "axis": null}, "y": {"datum": 67, "axis": null}, "text": {"value": "34265"}}},
{"mark": {"type": "text", "align": "left", "baseline": "middle", "fontSize": 25, "color": "#666666"}, "encoding": {"x": {"datum": 19, "axis": null}, "y": {"datum": 110, "axis": null}, "text": {"value": "Time Frame"}}},
{"mark": {"type": "text", "align": "left", "baseline": "middle", "fontSize": 25, "color": "#666666"}, "encoding": {"x": {"datum": 186, "axis": null}, "y": {"datum": 110, "axis": null}, "text": {"value": "5D"}}},
{"mark": {"type": "text", "align": "left", "baseline": "middle", "fontSize": 25, "color": "#666666"}, "encoding": {"x": {"datum": 254, "axis": null}, "y": {"datum": 110, "axis": null}, "text": {"value": "1D"}}},
{"mark": {"type": "text", "align": "left", "baseline": "middle", "fontSize": 25, "color": "#666666"}, "encoding": {"x": {"datum": 322, "axis": null}, "y": {"datum": 110, "axis": null}, "text": {"value": "1W"}}},
{"mark": {"type": "text", "align": "left", "baseline": "middle", "fontSize": 25, "color": "#666666"}, "encoding": {"x": {"datum": 395, "axis": null}, "y": {"datum": 110, "axis": null}, "text": {"value": "1M"}}},
{"mark": {"type": "text", "align": "left", "baseline": "middle", "fontSize": 25, "color": "#666666"}, "encoding": {"x": {"datum": 464, "axis": null}, "y": {"datum": 110, "axis": null}, "text": {"value": "1Q"}}},
{"mark": {"type": "text", "align": "left", "baseline": "middle", "fontSize": 25, "color": "#666666"}, "encoding": {"x": {"datum": 532, "axis": null}, "y": {"datum": 110, "axis": null}, "text": {"value": "1Y"}}},
{"mark": {"type": "text", "align": "left", "baseline": "middle", "fontSize": 25, "fontWeight": "bold", "color": "#1a1a1a"}, "encoding": {"x": {"datum": 598, "axis": null}, "y": {"datum": 110, "axis": null}, "text": {"value": "1m"}}},
{"mark": {"type": "text", "align": "left", "baseline": "middle", "fontSize": 25, "color": "#666666"}, "encoding": {"x": {"datum": 668, "axis": null}, "y": {"datum": 110, "axis": null}, "text": {"value": "3m"}}},
{"mark": {"type": "text", "align": "left", "baseline": "middle", "fontSize": 25, "color": "#666666"}, "encoding": {"x": {"datum": 741, "axis": null}, "y": {"datum": 110, "axis": null}, "text": {"value": "5m"}}},
{"mark": {"type": "text", "align": "left", "baseline": "middle", "fontSize": 25, "color": "#666666"}, "encoding": {"x": {"datum": 813, "axis": null}, "y": {"datum": 110, "axis": null}, "text": {"value": "10m"}}},
{"mark": {"type": "text", "align": "left", "baseline": "middle", "fontSize": 25, "color": "#666666"}, "encoding": {"x": {"datum": 898, "axis": null}, "y": {"datum": 110, "axis": null}, "text": {"value": "15m"}}},
{"mark": {"type": "text", "align": "left", "baseline": "middle", "fontSize": 25, "color": "#666666"}, "encoding": {"x": {"datum": 982, "axis": null}, "y": {"datum": 110, "axis": null}, "text": {"value": "30m"}}},
{"mark": {"type": "text", "align": "left", "baseline": "middle", "fontSize": 25, "color": "#666666"}, "encoding": {"x": {"datum": 1068, "axis": null}, "y": {"datum": 110, "axis": null}, "text": {"value": "1h"}}},
{"mark": {"type": "text", "align": "left", "baseline": "middle", "fontSize": 25, "color": "#666666"}, "encoding": {"x": {"datum": 1130, "axis": null}, "y": {"datum": 110, "axis": null}, "text": {"value": "3Mos"}}},
{"mark": {"type": "text", "align": "left", "baseline": "middle", "fontSize": 25, "color": "#666666"}, "encoding": {"x": {"datum": 1205, "axis": null}, "y": {"datum": 110, "axis": null}, "text": {"value": "6Mos"}}},
{"mark": {"type": "text", "align": "left", "baseline": "middle", "fontSize": 25, "color": "#666666"}, "encoding": {"x": {"datum": 1280, "axis": null}, "y": {"datum": 110, "axis": null}, "text": {"value": "1Year"}}},
{"mark": {"type": "text", "align": "left", "baseline": "middle", "fontSize": 25, "color": "#666666"}, "encoding": {"x": {"datum": 1358, "axis": null}, "y": {"datum": 110, "axis": null}, "text": {"value": "3Years"}}},
{"mark": {"type": "text", "align": "left", "baseline": "middle", "fontSize": 25, "color": "#666666"}, "encoding": {"x": {"datum": 1449, "axis": null}, "y": {"datum": 110, "axis": null}, "text": {"value": "5Years"}}},
{"mark": {"type": "text", "align": "left", "baseline": "middle", "fontSize": 25, "color": "#666666"}, "encoding": {"x": {"datum": 1540, "axis": null}, "y": {"datum": 110, "axis": null}, "text": {"value": "Max"}}},
{"mark": {"type": "rule", "color": "#f2711c", "strokeWidth": 4}, "encoding": {"x": {"datum": 600, "axis": null}, "x2": {"datum": 629}, "y": {"datum": 134, "axis": null}}},
{"mark": {"type": "rule", "color": "#d9d9d9", "strokeWidth": 1.5}, "encoding": {"x": {"datum": 1119, "axis": null}, "y": {"datum": 97, "axis": null}, "y2": {"datum": 125}}},
{"mark": {"type": "text", "align": "center", "baseline": "middle", "fontSize": 10, "font": "DejaVu Sans", "color": "#999999"}, "encoding": {"x": {"datum": 1099, "axis": null}, "y": {"datum": 127, "axis": null}, "text": {"value": "◢"}}},
{"mark": {"type": "rule", "color": "#e5e5e5", "strokeWidth": 1.5}, "encoding": {"x": {"datum": 12, "axis": null}, "x2": {"datum": 1600}, "y": {"datum": 138, "axis": null}}}
]
},
{
"width": 1478,
"height": 552,
"data": {"name": "d"},
"layer": [
{"mark": {"type": "line", "color": "#4c8be0", "strokeWidth": 2}, "encoding": {"x": {"field": "time", "type": "temporal", "scale": {"domain": [{"year":2021,"month":9,"date":30,"hours":5,"minutes":13,"seconds":15},{"year":2021,"month":9,"date":30,"hours":11,"minutes":50,"seconds":36}], "nice": false, "padding": 0}, "axis": {"title": null, "labels": true, "values": [{"year":2021,"month":9,"date":30,"hours":5,"minutes":30},{"year":2021,"month":9,"date":30,"hours":6,"minutes":0},{"year":2021,"month":9,"date":30,"hours":6,"minutes":30},{"year":2021,"month":9,"date":30,"hours":7,"minutes":0},{"year":2021,"month":9,"date":30,"hours":7,"minutes":30},{"year":2021,"month":9,"date":30,"hours":8,"minutes":0},{"year":2021,"month":9,"date":30,"hours":8,"minutes":30},{"year":2021,"month":9,"date":30,"hours":9,"minutes":0},{"year":2021,"month":9,"date":30,"hours":9,"minutes":30},{"year":2021,"month":9,"date":30,"hours":10,"minutes":0},{"year":2021,"month":9,"date":30,"hours":10,"minutes":30},{"year":2021,"month":9,"date":30,"hours":11,"minutes":0},{"year":2021,"month":9,"date":30,"hours":11,"minutes":30}], "labelExpr": "timeFormat(datum.value, '%H:%M') == '05:30' ? '09/30 05:30' : timeFormat(datum.value, '%H:%M')"}}, "y": {"field": "price", "type": "quantitative", "scale": {"domain": [33930, 34577], "nice": false, "zero": false}, "axis": {"title": null, "values": [33930, 34091, 34252, 34414, 34577], "format": "d"}}}},
{"transform": [{"aggregate": [{"op": "count", "as": "n"}]}], "mark": {"type": "rule", "color": "#f07d2a", "strokeWidth": 2, "strokeDash": [8, 6]}, "encoding": {"x": {"datum": {"year":2021,"month":9,"date":30,"hours":5,"minutes":13,"seconds":15}, "type": "temporal"}, "x2": {"datum": {"year":2021,"month":9,"date":30,"hours":11,"minutes":50,"seconds":36}}, "y": {"datum": 34024}}},
{"transform": [{"aggregate": [{"op": "count", "as": "n"}]}], "mark": {"type": "text", "align": "left", "baseline": "middle", "fontSize": 15, "color": "#222222", "dx": 1, "dy": -17}, "encoding": {"x": {"datum": {"year":2021,"month":9,"date":30,"hours":5,"minutes":13,"seconds":15}, "type": "temporal"}, "y": {"datum": 34577}, "text": {"value": "Actual"}}}
]
}
]
},
{
"bounds": "flush",
"spacing": 27.5,
"vconcat": [
{
"width": 1478,
"height": 204,
"data": {"values": [{}]},
"layer": [
{"mark": {"type": "rule", "color": "#2f4a3d", "strokeWidth": 3}, "encoding": {"x": {"datum": {"year":2021,"month":9,"date":30,"hours":5,"minutes":14}, "type": "temporal", "scale": {"domain": [{"year":2021,"month":9,"date":30,"hours":5,"minutes":13,"seconds":15},{"year":2021,"month":9,"date":30,"hours":11,"minutes":50,"seconds":36}], "nice": false, "padding": 0}, "axis": {"title": null, "labels": false, "values": [{"year":2021,"month":9,"date":30,"hours":5,"minutes":30},{"year":2021,"month":9,"date":30,"hours":6,"minutes":0},{"year":2021,"month":9,"date":30,"hours":6,"minutes":30},{"year":2021,"month":9,"date":30,"hours":7,"minutes":0},{"year":2021,"month":9,"date":30,"hours":7,"minutes":30},{"year":2021,"month":9,"date":30,"hours":8,"minutes":0},{"year":2021,"month":9,"date":30,"hours":8,"minutes":30},{"year":2021,"month":9,"date":30,"hours":9,"minutes":0},{"year":2021,"month":9,"date":30,"hours":9,"minutes":30},{"year":2021,"month":9,"date":30,"hours":10,"minutes":0},{"year":2021,"month":9,"date":30,"hours":10,"minutes":30},{"year":2021,"month":9,"date":30,"hours":11,"minutes":0},{"year":2021,"month":9,"date":30,"hours":11,"minutes":30}]}}, "x2": {"datum": {"year":2021,"month":9,"date":30,"hours":11,"minutes":40}}, "y": {"datum": 0, "type": "quantitative", "scale": {"domain": [-2, 2], "nice": false, "zero": false}, "axis": {"title": null, "values": [-2, -1, 0, 1, 2], "labelExpr": "datum.value < 0 ? '-' + format(-datum.value, '.3f') : format(datum.value, '.3f')"}}}},
{"mark": {"type": "text", "align": "left", "baseline": "middle", "fontSize": 15, "color": "#222222", "dx": 1, "dy": -16}, "encoding": {"x": {"datum": {"year":2021,"month":9,"date":30,"hours":5,"minutes":13,"seconds":15}, "type": "temporal"}, "y": {"datum": 2}, "text": {"value": "PER"}}},
{"mark": {"type": "text", "align": "left", "baseline": "middle", "fontSize": 15, "color": "#2e5a41", "dx": 38, "dy": -16}, "encoding": {"x": {"datum": {"year":2021,"month":9,"date":30,"hours":5,"minutes":13,"seconds":15}, "type": "temporal"}, "y": {"datum": 2}, "text": {"value": "PE:0.000"}}}
]
},
{
"width": 1478,
"height": 204,
"data": {"name": "d"},
"layer": [
{"mark": {"type": "line", "color": "#f0932f", "strokeWidth": 2}, "encoding": {"x": {"field": "time", "type": "temporal", "scale": {"domain": [{"year":2021,"month":9,"date":30,"hours":5,"minutes":13,"seconds":15},{"year":2021,"month":9,"date":30,"hours":11,"minutes":50,"seconds":36}], "nice": false, "padding": 0}, "axis": {"title": null, "labels": false, "values": [{"year":2021,"month":9,"date":30,"hours":5,"minutes":30},{"year":2021,"month":9,"date":30,"hours":6,"minutes":0},{"year":2021,"month":9,"date":30,"hours":6,"minutes":30},{"year":2021,"month":9,"date":30,"hours":7,"minutes":0},{"year":2021,"month":9,"date":30,"hours":7,"minutes":30},{"year":2021,"month":9,"date":30,"hours":8,"minutes":0},{"year":2021,"month":9,"date":30,"hours":8,"minutes":30},{"year":2021,"month":9,"date":30,"hours":9,"minutes":0},{"year":2021,"month":9,"date":30,"hours":9,"minutes":30},{"year":2021,"month":9,"date":30,"hours":10,"minutes":0},{"year":2021,"month":9,"date":30,"hours":10,"minutes":30},{"year":2021,"month":9,"date":30,"hours":11,"minutes":0},{"year":2021,"month":9,"date":30,"hours":11,"minutes":30}]}}, "y": {"field": "mfi", "type": "quantitative", "scale": {"domain": [9.35, 91.17], "nice": false, "zero": false}, "axis": {"title": null, "values": [9.35, 29.81, 50.26, 70.72, 91.17], "format": ".2f"}}}},
{"transform": [{"aggregate": [{"op": "count", "as": "n"}]}], "mark": {"type": "text", "align": "left", "baseline": "middle", "fontSize": 15, "color": "#222222", "dx": 1, "dy": -16}, "encoding": {"x": {"datum": {"year":2021,"month":9,"date":30,"hours":5,"minutes":13,"seconds":15}, "type": "temporal"}, "y": {"datum": 91.17}, "text": {"value": "MFI(25)"}}},
{"transform": [{"aggregate": [{"op": "count", "as": "n"}]}], "mark": {"type": "text", "align": "left", "baseline": "middle", "fontSize": 15, "color": "#f0932f", "dx": 63, "dy": -16}, "encoding": {"x": {"datum": {"year":2021,"month":9,"date":30,"hours":5,"minutes":13,"seconds":15}, "type": "temporal"}, "y": {"datum": 91.17}, "text": {"value": "MFI:28.032"}}}
]
},
{
"width": 1478,
"height": 204,
"data": {"name": "d"},
"layer": [
{"mark": {"type": "bar", "size": 5}, "encoding": {"x": {"field": "time", "type": "temporal", "scale": {"domain": [{"year":2021,"month":9,"date":30,"hours":5,"minutes":13,"seconds":15},{"year":2021,"month":9,"date":30,"hours":11,"minutes":50,"seconds":36}], "nice": false, "padding": 0}, "axis": {"title": null, "labels": false, "values": [{"year":2021,"month":9,"date":30,"hours":5,"minutes":30},{"year":2021,"month":9,"date":30,"hours":6,"minutes":0},{"year":2021,"month":9,"date":30,"hours":6,"minutes":30},{"year":2021,"month":9,"date":30,"hours":7,"minutes":0},{"year":2021,"month":9,"date":30,"hours":7,"minutes":30},{"year":2021,"month":9,"date":30,"hours":8,"minutes":0},{"year":2021,"month":9,"date":30,"hours":8,"minutes":30},{"year":2021,"month":9,"date":30,"hours":9,"minutes":0},{"year":2021,"month":9,"date":30,"hours":9,"minutes":30},{"year":2021,"month":9,"date":30,"hours":10,"minutes":0},{"year":2021,"month":9,"date":30,"hours":10,"minutes":30},{"year":2021,"month":9,"date":30,"hours":11,"minutes":0},{"year":2021,"month":9,"date":30,"hours":11,"minutes":30}]}}, "y": {"field": "vol", "type": "quantitative", "scale": {"domain": [0, 1960], "nice": false}, "axis": {"title": null, "values": [0, 490, 980, 1470, 1960], "format": "d"}}, "color": {"field": "dir", "type": "nominal", "scale": {"domain": ["u", "d"], "range": ["#1f9c4b", "#e0505e"]}, "legend": null}}},
{"mark": {"type": "line", "color": "#f0932f", "strokeWidth": 2}, "encoding": {"x": {"field": "time", "type": "temporal"}, "y": {"field": "ma5", "type": "quantitative"}}},
{"mark": {"type": "line", "color": "#23a3d6", "strokeWidth": 2}, "encoding": {"x": {"field": "time", "type": "temporal"}, "y": {"field": "ma10", "type": "quantitative"}}},
{"mark": {"type": "line", "color": "#e06bd3", "strokeWidth": 2}, "encoding": {"x": {"field": "time", "type": "temporal"}, "y": {"field": "ma20", "type": "quantitative"}}},
{"transform": [{"aggregate": [{"op": "count", "as": "n"}]}], "mark": {"type": "text", "align": "left", "baseline": "middle", "fontSize": 15, "color": "#222222", "dx": 1, "dy": -16}, "encoding": {"x": {"datum": {"year":2021,"month":9,"date":30,"hours":5,"minutes":13,"seconds":15}, "type": "temporal"}, "y": {"datum": 1960}, "text": {"value": "MAVOL(5,10,20)"}}},
{"transform": [{"aggregate": [{"op": "count", "as": "n"}]}], "mark": {"type": "text", "align": "left", "baseline": "middle", "fontSize": 15, "color": "#f0737d", "dx": 119, "dy": -16}, "encoding": {"x": {"datum": {"year":2021,"month":9,"date":30,"hours":5,"minutes":13,"seconds":15}, "type": "temporal"}, "y": {"datum": 1960}, "text": {"value": "VOL:353.000"}}},
{"transform": [{"aggregate": [{"op": "count", "as": "n"}]}], "mark": {"type": "text", "align": "left", "baseline": "middle", "fontSize": 15, "color": "#f0932f", "dx": 214, "dy": -16}, "encoding": {"x": {"datum": {"year":2021,"month":9,"date":30,"hours":5,"minutes":13,"seconds":15}, "type": "temporal"}, "y": {"datum": 1960}, "text": {"value": "MAVOL5:677.200"}}},
{"transform": [{"aggregate": [{"op": "count", "as": "n"}]}], "mark": {"type": "text", "align": "left", "baseline": "middle", "fontSize": 15, "color": "#23a3d6", "dx": 338, "dy": -16}, "encoding": {"x": {"datum": {"year":2021,"month":9,"date":30,"hours":5,"minutes":13,"seconds":15}, "type": "temporal"}, "y": {"datum": 1960}, "text": {"value": "MAVOL10:530.900"}}},
{"transform": [{"aggregate": [{"op": "count", "as": "n"}]}], "mark": {"type": "text", "align": "left", "baseline": "middle", "fontSize": 15, "color": "#e06bd3", "dx": 470, "dy": -16}, "encoding": {"x": {"datum": {"year":2021,"month":9,"date":30,"hours":5,"minutes":13,"seconds":15}, "type": "temporal"}, "y": {"datum": 1960}, "text": {"value": "MAVOL20:407.200"}}}
]
},
{
"width": 1478,
"height": 204,
"data": {"name": "d"},
"layer": [
{"mark": {"type": "bar", "size": 5}, "encoding": {"x": {"field": "time", "type": "temporal", "scale": {"domain": [{"year":2021,"month":9,"date":30,"hours":5,"minutes":13,"seconds":15},{"year":2021,"month":9,"date":30,"hours":11,"minutes":50,"seconds":36}], "nice": false, "padding": 0}, "axis": {"title": null, "labels": false, "values": [{"year":2021,"month":9,"date":30,"hours":5,"minutes":30},{"year":2021,"month":9,"date":30,"hours":6,"minutes":0},{"year":2021,"month":9,"date":30,"hours":6,"minutes":30},{"year":2021,"month":9,"date":30,"hours":7,"minutes":0},{"year":2021,"month":9,"date":30,"hours":7,"minutes":30},{"year":2021,"month":9,"date":30,"hours":8,"minutes":0},{"year":2021,"month":9,"date":30,"hours":8,"minutes":30},{"year":2021,"month":9,"date":30,"hours":9,"minutes":0},{"year":2021,"month":9,"date":30,"hours":9,"minutes":30},{"year":2021,"month":9,"date":30,"hours":10,"minutes":0},{"year":2021,"month":9,"date":30,"hours":10,"minutes":30},{"year":2021,"month":9,"date":30,"hours":11,"minutes":0},{"year":2021,"month":9,"date":30,"hours":11,"minutes":30}]}}, "y": {"field": "macd", "type": "quantitative", "scale": {"domain": [-46.39, 44.25], "nice": false, "zero": false}, "axis": {"title": null, "values": [-46.39, -23.73, -1.07, 21.59, 44.25], "labelExpr": "datum.value < 0 ? '-' + format(-datum.value, '.2f') : format(datum.value, '.2f')"}}, "color": {"condition": {"test": "datum.macd >= 0", "value": "#1f9c4b"}, "value": "#e0505e"}}},
{"mark": {"type": "line", "color": "#f0932f", "strokeWidth": 2.2}, "encoding": {"x": {"field": "time", "type": "temporal"}, "y": {"field": "dif", "type": "quantitative"}}},
{"mark": {"type": "line", "color": "#23a3d6", "strokeWidth": 2.2}, "encoding": {"x": {"field": "time", "type": "temporal"}, "y": {"field": "dea", "type": "quantitative"}}},
{"transform": [{"aggregate": [{"op": "count", "as": "n"}]}], "mark": {"type": "text", "align": "left", "baseline": "middle", "fontSize": 15, "color": "#222222", "dx": 1, "dy": -16}, "encoding": {"x": {"datum": {"year":2021,"month":9,"date":30,"hours":5,"minutes":13,"seconds":15}, "type": "temporal"}, "y": {"datum": 44.25}, "text": {"value": "MACD(13,28,14)"}}},
{"transform": [{"aggregate": [{"op": "count", "as": "n"}]}], "mark": {"type": "text", "align": "left", "baseline": "middle", "fontSize": 15, "color": "#f0932f", "dx": 119, "dy": -16}, "encoding": {"x": {"datum": {"year":2021,"month":9,"date":30,"hours":5,"minutes":13,"seconds":15}, "type": "temporal"}, "y": {"datum": 44.25}, "text": {"value": "DIF:-28.388"}}},
{"transform": [{"aggregate": [{"op": "count", "as": "n"}]}], "mark": {"type": "text", "align": "left", "baseline": "middle", "fontSize": 15, "color": "#23a3d6", "dx": 207, "dy": -16}, "encoding": {"x": {"datum": {"year":2021,"month":9,"date":30,"hours":5,"minutes":13,"seconds":15}, "type": "temporal"}, "y": {"datum": 44.25}, "text": {"value": "DEA:-10.149"}}},
{"transform": [{"aggregate": [{"op": "count", "as": "n"}]}], "mark": {"type": "text", "align": "left", "baseline": "middle", "fontSize": 15, "color": "#e06bd3", "dx": 298, "dy": -16}, "encoding": {"x": {"datum": {"year":2021,"month":9,"date":30,"hours":5,"minutes":13,"seconds":15}, "type": "temporal"}, "y": {"datum": 44.25}, "text": {"value": "MACD:-36.478"}}}
]
},
{
"width": 1478,
"height": 204,
"data": {"name": "d"},
"layer": [
{"mark": {"type": "line", "color": "#f0932f", "strokeWidth": 2}, "encoding": {"x": {"field": "time", "type": "temporal", "scale": {"domain": [{"year":2021,"month":9,"date":30,"hours":5,"minutes":13,"seconds":15},{"year":2021,"month":9,"date":30,"hours":11,"minutes":50,"seconds":36}], "nice": false, "padding": 0}, "axis": {"title": null, "labels": false, "values": [{"year":2021,"month":9,"date":30,"hours":5,"minutes":30},{"year":2021,"month":9,"date":30,"hours":6,"minutes":0},{"year":2021,"month":9,"date":30,"hours":6,"minutes":30},{"year":2021,"month":9,"date":30,"hours":7,"minutes":0},{"year":2021,"month":9,"date":30,"hours":7,"minutes":30},{"year":2021,"month":9,"date":30,"hours":8,"minutes":0},{"year":2021,"month":9,"date":30,"hours":8,"minutes":30},{"year":2021,"month":9,"date":30,"hours":9,"minutes":0},{"year":2021,"month":9,"date":30,"hours":9,"minutes":30},{"year":2021,"month":9,"date":30,"hours":10,"minutes":0},{"year":2021,"month":9,"date":30,"hours":10,"minutes":30},{"year":2021,"month":9,"date":30,"hours":11,"minutes":0},{"year":2021,"month":9,"date":30,"hours":11,"minutes":30}]}}, "y": {"field": "ar", "type": "quantitative", "scale": {"domain": [30.7, 149.5], "nice": false, "zero": false}, "axis": {"title": null, "values": [30.7, 60.4, 90.1, 119.8, 149.5], "format": ".1f"}}}},
{"mark": {"type": "line", "color": "#23a3d6", "strokeWidth": 2}, "encoding": {"x": {"field": "time", "type": "temporal"}, "y": {"field": "br", "type": "quantitative"}}},
{"transform": [{"aggregate": [{"op": "count", "as": "n"}]}], "mark": {"type": "text", "align": "left", "baseline": "middle", "fontSize": 15, "color": "#222222", "dx": 1, "dy": -16}, "encoding": {"x": {"datum": {"year":2021,"month":9,"date":30,"hours":5,"minutes":13,"seconds":15}, "type": "temporal"}, "y": {"datum": 149.5}, "text": {"value": "ARBR(34)"}}},
{"transform": [{"aggregate": [{"op": "count", "as": "n"}]}], "mark": {"type": "text", "align": "left", "baseline": "middle", "fontSize": 15, "color": "#f0932f", "dx": 77, "dy": -16}, "encoding": {"x": {"datum": {"year":2021,"month":9,"date":30,"hours":5,"minutes":13,"seconds":15}, "type": "temporal"}, "y": {"datum": 149.5}, "text": {"value": "AR:79.157"}}},
{"transform": [{"aggregate": [{"op": "count", "as": "n"}]}], "mark": {"type": "text", "align": "left", "baseline": "middle", "fontSize": 15, "color": "#23a3d6", "dx": 154, "dy": -16}, "encoding": {"x": {"datum": {"year":2021,"month":9,"date":30,"hours":5,"minutes":13,"seconds":15}, "type": "temporal"}, "y": {"datum": 149.5}, "text": {"value": "BR:73.696"}}}
]
}
]
}
]
}
